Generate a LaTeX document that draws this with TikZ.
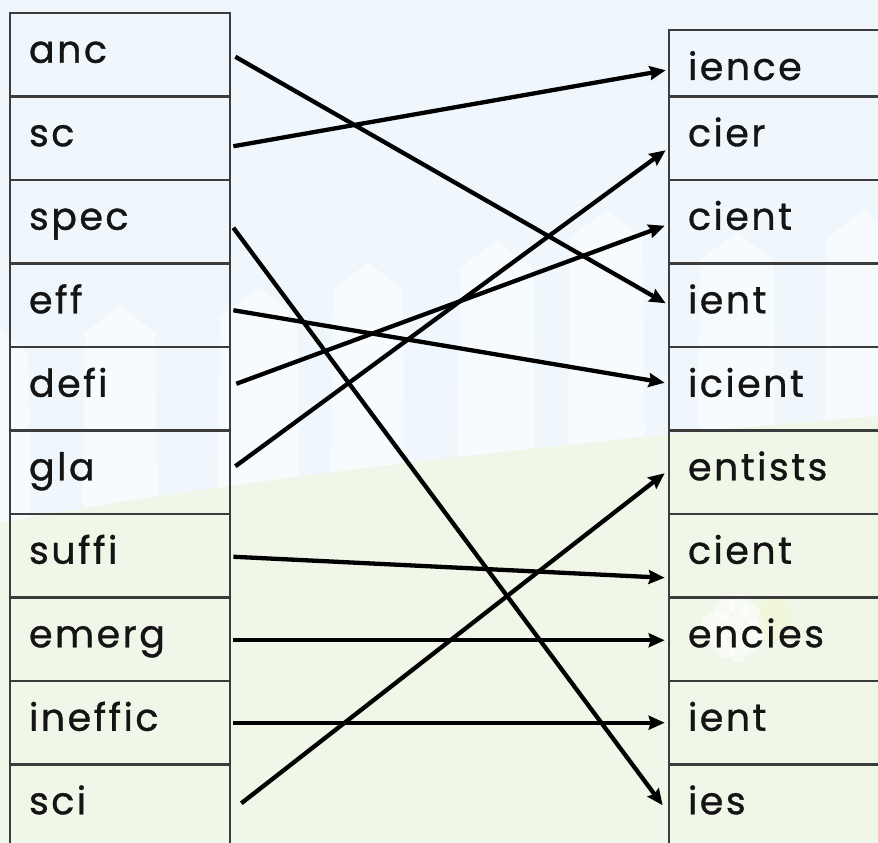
\documentclass[tikz,border=0pt]{standalone}
\usepackage{fontspec}
\setmainfont{Poppins}[FakeBold=0.9, LetterSpace=6.5]
\usetikzlibrary{arrows.meta,calc}
\definecolor{sky}{HTML}{EFF7FC}
\definecolor{grass}{HTML}{F0F7E8}
\definecolor{gridc}{HTML}{3C3C3C}
\begin{document}
\begin{tikzpicture}[x=1pt,y=-1pt,
  cellbase/.style={draw=gridc, line width=2.7pt, inner sep=0pt, align=left,
    text height=22pt, text depth=6pt, font=\fontsize{38}{44}\selectfont, text=black!92},
  lcell/.style={cellbase, minimum width=220pt, minimum height=83.5pt, text width=182pt},
  rcell/.style={cellbase, minimum width=240pt, minimum height=83.5pt, text width=202pt},
  conn/.style={line width=4.3pt, draw=black, -{Stealth[length=16pt,width=14pt,inset=2pt]}},
  picket/.style={fill=white, opacity=0.55, draw=none}]
\useasboundingbox (0,0) rectangle (878,843);
\clip (0,0) rectangle (878,843);
% background
\fill[sky] (0,0) rectangle (878,843);
\foreach \xa/\xb/\pk in {-40/28/325, 85/155/305, 220/297/288, 333/403/262, 460/533/240, 570/643/210, 700/773/232, 827/900/210}{
  \fill[picket] (\xa-3,560) -- (\xa,\pk+28) -- ({(\xa+\xb)/2},\pk) -- (\xb,\pk+28) -- (\xb+3,560) -- cycle;
}
\fill[grass] (0,523) .. controls (240,478) and (600,438) .. (878,416) -- (878,843) -- (0,843) -- cycle;
% faint daisy and bee
\begin{scope}[opacity=0.5]
  \foreach \a in {0,40,...,320}{
    \fill[white] (735,628) ++(\a:22) ellipse [x radius=13pt, y radius=9pt, rotate=\a];
  }
  \fill[white] (735,628) circle (12);
  \fill[yellow!12!grass] (775,618) ellipse [x radius=16pt, y radius=22pt];
\end{scope}
% left column
\node[lcell] (L1) at (120,54.75) {anc};
\node[lcell] (L2) at (120,138.25) {sc};
\node[lcell] (L3) at (120,221.75) {spec};
\node[lcell] (L4) at (120,305.25) {eff};
\node[lcell] (L5) at (120,388.75) {defi};
\node[lcell] (L6) at (120,472.25) {gla};
\node[lcell] (L7) at (120,555.75) {suffi};
\node[lcell] (L8) at (120,639.25) {emerg};
\node[lcell] (L9) at (120,722.75) {ineffic};
\node[lcell] (L10) at (120,806.25) {sci};
% right column
\node[rcell, minimum height=66.5pt] (R1) at (789,63.25) {\raisebox{-8.75pt}[0pt][0pt]{ience}};
\node[rcell] (R2) at (789,138.25) {cier};
\node[rcell] (R3) at (789,221.75) {cient};
\node[rcell] (R4) at (789,305.25) {ient};
\node[rcell] (R5) at (789,388.75) {icient};
\node[rcell] (R6) at (789,472.25) {entists};
\node[rcell] (R7) at (789,555.75) {cient};
\node[rcell] (R8) at (789,639.25) {encies};
\node[rcell] (R9) at (789,722.75) {ient};
\node[rcell] (R10) at (789,806.25) {ies};
% connectors
\draw[conn] ($(L1.east)+(4,2)$) -- ($(R4.west)+(-2,-2)$);
\draw[conn] ($(L2.east)+(2,8)$) -- ($(R1.west)+(-2,7)$);
\draw[conn] ($(L3.east)+(2,6)$) -- ($(R10.west)+(-5,-1)$);
\draw[conn] ($(L4.east)+(2,5)$) -- ($(R5.west)+(-3,-6)$);
\draw[conn] ($(L5.east)+(5,-5)$) -- ($(R3.west)+(-3,4)$);
\draw[conn] ($(L6.east)+(4,-6)$) -- ($(R2.west)+(-2,12)$);
\draw[conn] ($(L7.east)+(2,1)$) -- ($(R7.west)+(-3,22)$);
\draw[conn] ($(L8.east)+(2,1)$) -- ($(R8.west)+(-3,1)$);
\draw[conn] ($(L9.east)+(2,0)$) -- ($(R9.west)+(-3,0)$);
\draw[conn] ($(L10.east)+(10,-3)$) -- ($(R6.west)+(-3,1)$);
\end{tikzpicture}
\end{document}
